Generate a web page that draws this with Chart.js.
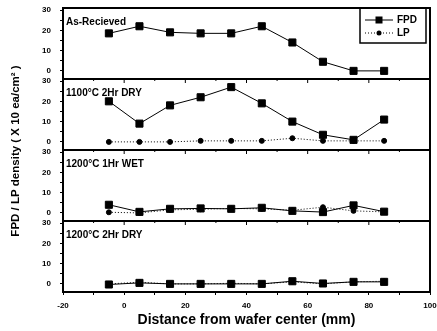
<!DOCTYPE html>
<html>
<head>
<meta charset="utf-8">
<script src="https://cdn.jsdelivr.net/npm/chart.js@4/dist/chart.umd.min.js"></script>
<style>
  html, body { margin: 0; padding: 0; background: #fff; }
  #wrap { width: 437px; height: 331px; }
</style>
</head>
<body>
<div id="wrap"><canvas id="chart"></canvas></div>
<script>
// Odległości od środka płytki (mm)
const distances = [-5, 5, 15, 25, 35, 45, 55, 65, 75, 85];

// Opisy paneli (od góry)
const panelTitles = ['As-Recieved', '1100°C 2Hr DRY', '1200°C 1Hr WET', '1200°C 2Hr DRY'];

// Gęstość FPD / LP w każdym panelu
const fpdReceived = [18.5, 22, 19, 18.5, 18.5, 22, 14, 4.5, 0, 0];
const fpd1100Dry = [20, 9, 18, 22, 27, 19, 10, 3.5, 1, 11];
const lp1100Dry = [0, 0, 0, 0.5, 0.5, 0.5, 1.8, 0.5, 0.5, 0.5];
const fpd1200Wet = [4, 0.5, 2, 2.2, 2, 2.5, 1, 0.4, 3.7, 0.6];
const lp1200Wet = [0.3, 0, 1.5, 1.8, 2.2, 2, 1.3, 2.8, 1, 0.5];
const fpd1200Dry = [-0.3, 0.5, 0, 0, 0, 0, 1.3, 0.2, 1, 1];
const lp1200Dry = [0, 0.8, 0, 0, 0.3, 0, 1, 0, 1, 1.3];

// Podziałki osi
const xTicks = [-20, -10, 0, 10, 20, 30, 40, 50, 60, 70, 80, 90, 100];
const yTicks = [0, 5, 10, 15, 20, 25, 30];

const FONT = '"Liberation Sans", Arial, sans-serif';
const tickFont = { family: FONT, size: 8, weight: 'bold' };

function toPoints(values) {
    return distances.map((x, i) => ({ x: x, y: values[i] }));
}

function fpdSet(values, axisId) {
    return {
        label: 'FPD', data: toPoints(values), yAxisID: axisId,
        borderColor: '#000', backgroundColor: '#000', borderWidth: 1,
        pointStyle: 'rect', pointRadius: 5, pointHoverRadius: 5
    };
}

function lpSet(values, axisId) {
    return {
        label: 'LP', data: toPoints(values), yAxisID: axisId,
        borderColor: '#000', backgroundColor: '#000', borderWidth: 1, borderDash: [1, 2],
        pointStyle: 'circle', pointRadius: 2.5, pointHoverRadius: 2.5
    };
}

// Oś pionowa jednego panelu
function panelAxis() {
    return {
        type: 'linear', position: 'left', stack: 'panels', stackWeight: 1,
        min: -4, max: 31,
        afterBuildTicks: axis => { axis.ticks = yTicks.map(v => ({ value: v })); },
        afterFit: axis => { axis.width = 33; axis.paddingTop = 0; axis.paddingBottom = 0; },
        ticks: { autoSkip: false, color: '#000', font: tickFont, padding: 9,
                 callback: v => v % 10 === 0 ? v : '' },
        grid: { drawOnChartArea: false, tickLength: 3, color: '#000' },
        border: { color: '#000', width: 2 }
    };
}

// Ramki paneli, opisy, tytuł osi Y i legenda
const panelPlugin = {
    id: 'panels',
    afterDraw(chart) {
        const ctx = chart.ctx;
        const area = chart.chartArea;
        const xScale = chart.scales.x;
        const ids = ['y1', 'y2', 'y3', 'y4'];
        ctx.save();
        ctx.strokeStyle = '#000';
        ctx.fillStyle = '#000';
        ids.forEach((id, i) => {
            const s = chart.scales[id];
            ctx.lineWidth = 2;
            ctx.strokeRect(area.left, s.top, area.right - area.left, s.bottom - s.top);
            if (i > 0) {
                ctx.lineWidth = 1;
                xTicks.forEach(v => {
                    const px = xScale.getPixelForValue(v);
                    const len = v % 20 === 0 ? 4 : 2;
                    ctx.beginPath();
                    ctx.moveTo(px, s.top);
                    ctx.lineTo(px, s.top + len);
                    ctx.stroke();
                });
            }
            ctx.font = 'bold 10px ' + FONT;
            ctx.textAlign = 'left';
            ctx.textBaseline = 'middle';
            ctx.fillText(panelTitles[i], area.left + 3, s.top + 14);
        });

        // tytuł osi Y
        ctx.save();
        ctx.translate(16, 151);
        ctx.rotate(-Math.PI / 2);
        ctx.font = 'bold 11.5px ' + FONT;
        ctx.textAlign = 'center';
        ctx.textBaseline = 'middle';
        ctx.fillText('FPD / LP density ( X 10 ea/cm² )', 0, 0);
        ctx.restore();

        // legenda
        const lx = 360, ly = 8, lw = 66, lh = 35;
        ctx.lineWidth = 1.5;
        ctx.strokeRect(lx, ly, lw, lh);
        ctx.lineWidth = 1;
        ctx.beginPath();
        ctx.moveTo(lx + 5, ly + 12);
        ctx.lineTo(lx + 33, ly + 12);
        ctx.stroke();
        ctx.fillRect(lx + 15.5, ly + 8.5, 7, 7);
        ctx.setLineDash([1, 2]);
        ctx.beginPath();
        ctx.moveTo(lx + 5, ly + 25);
        ctx.lineTo(lx + 33, ly + 25);
        ctx.stroke();
        ctx.setLineDash([]);
        ctx.beginPath();
        ctx.arc(lx + 19, ly + 25, 2.5, 0, Math.PI * 2);
        ctx.fill();
        ctx.font = 'bold 10px ' + FONT;
        ctx.textBaseline = 'middle';
        ctx.fillText('FPD', lx + 37, ly + 12);
        ctx.fillText('LP', lx + 37, ly + 25);
        ctx.restore();
    }
};

new Chart(document.getElementById('chart'), {
    type: 'line',
    data: {
        datasets: [
            fpdSet(fpdReceived, 'y1'),
            fpdSet(fpd1100Dry, 'y2'),
            lpSet(lp1100Dry, 'y2'),
            fpdSet(fpd1200Wet, 'y3'),
            lpSet(lp1200Wet, 'y3'),
            fpdSet(fpd1200Dry, 'y4'),
            lpSet(lp1200Dry, 'y4')
        ]
    },
    options: {
        responsive: true,
        maintainAspectRatio: false,
        animation: false,
        layout: { padding: { left: 30, right: 7, top: 8, bottom: 0 } },
        plugins: { legend: { display: false }, tooltip: { enabled: false } },
        scales: {
            x: {
                type: 'linear', min: -20, max: 100,
                afterBuildTicks: axis => { axis.ticks = xTicks.map(v => ({ value: v })); },
                afterFit: axis => { axis.height = 39; axis.paddingLeft = 0; axis.paddingRight = 0; },
                ticks: { autoSkip: false, maxRotation: 0, color: '#000', font: tickFont, padding: 6,
                         callback: v => v % 20 === 0 ? v : '' },
                grid: { drawOnChartArea: false, tickLength: 3, color: '#000' },
                border: { color: '#000', width: 2 },
                title: { display: true, text: 'Distance from wafer center (mm)', color: '#000',
                         font: { family: FONT, size: 14, weight: 'bold' }, padding: { top: 1, bottom: 2 } }
            },
            y4: panelAxis(),
            y3: panelAxis(),
            y2: panelAxis(),
            y1: panelAxis()
        }
    },
    plugins: [panelPlugin]
});
</script>
</body>
</html>
